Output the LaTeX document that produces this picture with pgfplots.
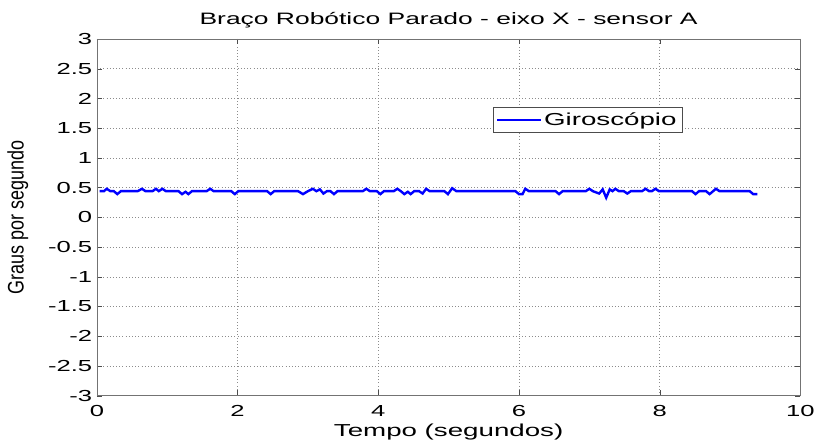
\documentclass[border=0pt]{standalone}
\usepackage{pgfplots}
\pgfplotsset{compat=1.18}
\usepackage{fontspec}
\setmainfont{Liberation Sans}
\newfontfamily\wide[FakeStretch=1.6]{Liberation Sans}
\begin{document}
\begin{tikzpicture}
\begin{axis}[
  scale only axis,
  width=528pt, height=267.75pt,
  xmin=0, xmax=10, ymin=-3, ymax=3,
  xtick={0,2,...,10},
  ytick={-3,-2.5,...,3},
  yticklabels={-3,-2.5,-2,-1.5,-1,-0.5,0,0.5,1,1.5,2,2.5,3},
  /pgf/number format/assume math mode=true,
  tick label style={font=\wide\fontsize{12}{14}\selectfont},
  xticklabel style={yshift=-4pt},
  tick align=inside,
  major tick length=4pt,
  tick style={black!70},
  axis line style={black!55},
  grid=major,
  major grid style={dotted, black!45},
  title={Braço Robótico Parado - eixo X - sensor A},
  title style={font=\wide\fontsize{12.4}{14}\selectfont, yshift=-1pt},
  xlabel={Tempo (segundos)},
  ylabel={\scalebox{1}[1.25]{Graus por segundo}},
  xlabel style={font=\wide\fontsize{13}{15}\selectfont, yshift=2pt},
  ylabel style={font=\fontsize{13.5}{15}\selectfont, yshift=8pt},
  legend style={at={(0.832,0.81)}, anchor=north east, draw=black!70,
    font=\wide\fontsize{13}{15}\selectfont, inner sep=2pt},
  legend image code/.code={\draw[blue, line width=1.3pt] (0cm,0cm) -- (1.15cm,0cm);},
  legend cell align=left,
]
\addplot[blue, line width=1.8pt] coordinates {
(0.04,0.44)
(0.10,0.44)(0.14,0.48)(0.19,0.44)
(0.24,0.44)(0.29,0.39)(0.34,0.44)
(0.58,0.44)(0.64,0.48)(0.69,0.44)
(0.79,0.44)(0.84,0.48)(0.88,0.44)(0.93,0.48)(0.98,0.44)
(1.16,0.44)(1.21,0.39)(1.26,0.43)(1.30,0.39)(1.35,0.44)
(1.56,0.44)(1.61,0.48)(1.66,0.44)
(1.91,0.44)(1.96,0.39)(2.01,0.44)
(2.42,0.44)(2.47,0.39)(2.52,0.44)
(2.86,0.44)(2.93,0.39)(3.00,0.44)(3.07,0.48)(3.12,0.44)(3.17,0.47)(3.22,0.40)(3.27,0.44)(3.32,0.44)(3.37,0.39)(3.42,0.44)
(3.78,0.44)(3.83,0.48)(3.88,0.44)
(3.98,0.44)(4.03,0.39)(4.08,0.44)
(4.22,0.44)(4.27,0.48)(4.32,0.44)(4.37,0.39)(4.42,0.43)(4.46,0.39)(4.51,0.44)
(4.58,0.44)(4.63,0.40)(4.68,0.48)(4.73,0.44)
(4.94,0.44)(4.99,0.39)(5.05,0.49)(5.11,0.44)
(5.95,0.44)(6.00,0.39)(6.05,0.39)(6.09,0.48)(6.14,0.44)
(6.52,0.44)(6.57,0.39)(6.62,0.44)
(6.95,0.44)(7.00,0.48)(7.05,0.44)(7.14,0.40)(7.19,0.47)(7.24,0.33)(7.29,0.47)(7.33,0.44)(7.37,0.48)(7.42,0.44)(7.49,0.44)(7.54,0.40)(7.59,0.44)
(7.75,0.44)(7.80,0.48)(7.85,0.44)(7.89,0.44)(7.94,0.48)(7.99,0.44)
(8.46,0.44)(8.51,0.39)(8.56,0.44)(8.66,0.44)(8.71,0.39)(8.80,0.48)(8.85,0.44)
(9.28,0.44)(9.33,0.39)(9.39,0.39)
};
\addlegendentry{Giroscópio}
\end{axis}
\path ([shift={(-72.75pt,-37.5pt)}]current axis.south west) rectangle ([shift={(13.5pt,29.25pt)}]current axis.north east);
\end{tikzpicture}
\end{document}
